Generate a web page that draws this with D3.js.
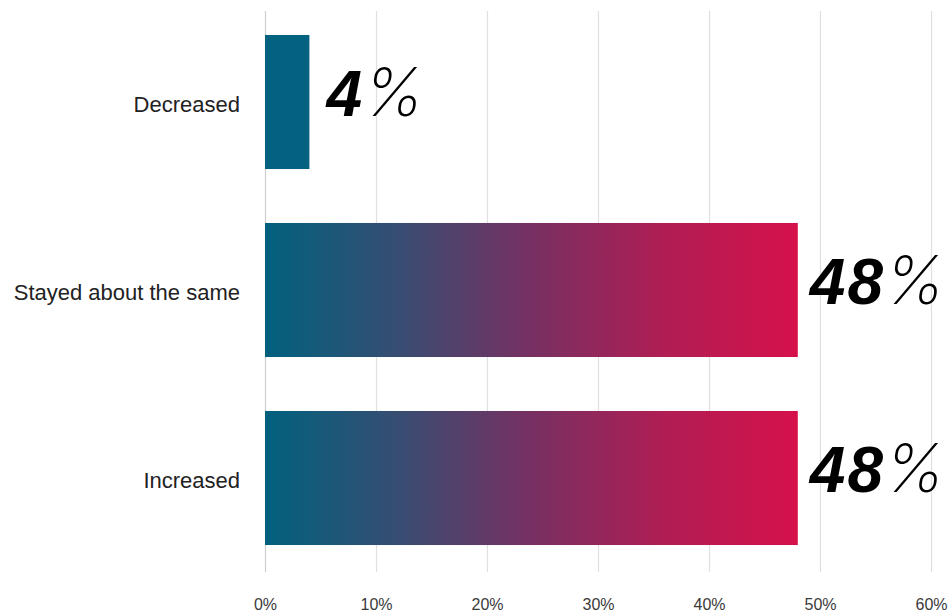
<!DOCTYPE html>
<html>
<head>
<meta charset="utf-8">
<script src="https://cdn.jsdelivr.net/npm/d3@7"></script>
<style>
  html, body { margin: 0; padding: 0; background: #fff; }
  svg { display: block; }
</style>
</head>
<body>
<svg id="chart" width="948" height="614"></svg>
<script>
// Survey responses: share of respondents per answer (percent)
const categories = ["Decreased", "Stayed about the same", "Increased"];
const values = [4, 48, 48];
const tickValues = [0, 10, 20, 30, 40, 50, 60];
const tickLabels = ["0%", "10%", "20%", "30%", "40%", "50%", "60%"];

const svg = d3.select("#chart");

const x = d3.scaleLinear().domain([0, 60]).range([265, 931]);
const y = d3.scaleBand()
  .domain(categories)
  .range([8, 572])
  .paddingInner(0.287)
  .paddingOuter(0.1435);

// Teal-to-crimson gradient across each bar
const defs = svg.append("defs");
const grad = defs.append("linearGradient")
  .attr("id", "barGrad")
  .attr("x1", "0%").attr("x2", "100%")
  .attr("y1", "0%").attr("y2", "0%");
[[0, "#01617e"], [0.25, "#374d72"], [0.5, "#773062"], [0.75, "#b01d54"], [1, "#d6114b"]]
  .forEach(([o, c]) => grad.append("stop").attr("offset", o).attr("stop-color", c));

// Vertical gridlines
svg.append("g")
  .selectAll("line")
  .data(tickValues)
  .join("line")
  .attr("x1", d => x(d) + 0.5).attr("x2", d => x(d) + 0.5)
  .attr("y1", 11).attr("y2", 572)
  .attr("stroke", d => d === 0 ? "#cfcfcf" : "#e0e0e0")
  .attr("stroke-width", 1.2);

// Bottom axis labels
const xAxis = d3.axisBottom(x)
  .tickValues(tickValues)
  .tickFormat((d, i) => tickLabels[i])
  .tickSize(0)
  .tickPadding(0);
const gx = svg.append("g")
  .attr("transform", "translate(0,597)")
  .call(xAxis);
gx.select(".domain").remove();
gx.selectAll("text")
  .attr("font-family", "Liberation Sans, Arial, sans-serif")
  .attr("font-size", 16)
  .attr("fill", "#3a3a3a")
  .attr("dy", "0.8em");

// Bars
svg.append("g")
  .selectAll("rect")
  .data(categories)
  .join("rect")
  .attr("x", x(0))
  .attr("y", d => y(d))
  .attr("width", (d, i) => x(values[i]) - x(0))
  .attr("height", y.bandwidth())
  .attr("fill", (d, i) => values[i] < 10 ? "#02627f" : "url(#barGrad)");

// Category labels
svg.append("g")
  .selectAll("text")
  .data(categories)
  .join("text")
  .attr("x", 240)
  .attr("y", d => y(d) + y.bandwidth() / 2 + 2)
  .attr("dy", "0.35em")
  .attr("text-anchor", "end")
  .attr("font-family", "Liberation Sans, Arial, sans-serif")
  .attr("font-size", 22)
  .attr("fill", "#222")
  .text(d => d);

// Value labels: bold italic number with a thin italic percent sign
const vl = svg.append("g")
  .selectAll("text")
  .data(categories)
  .join("text")
  .attr("x", (d, i) => x(values[i]) + (values[i] < 10 ? 17 : 12))
  .attr("y", d => y(d) + y.bandwidth() / 2 + 14)
  .attr("font-family", "Liberation Sans, Arial, sans-serif")
  .attr("font-size", 64)
  .attr("font-style", "italic")
  .attr("fill", "#000");
vl.append("tspan")
  .attr("font-weight", "bold")
  .attr("letter-spacing", 2)
  .text((d, i) => values[i]);
vl.append("tspan")
  .attr("font-family", "Inter, Noto Sans CJK SC, sans-serif")
  .attr("font-weight", "250")
  .attr("font-size", 67)
  .text("%");
</script>
</body>
</html>
